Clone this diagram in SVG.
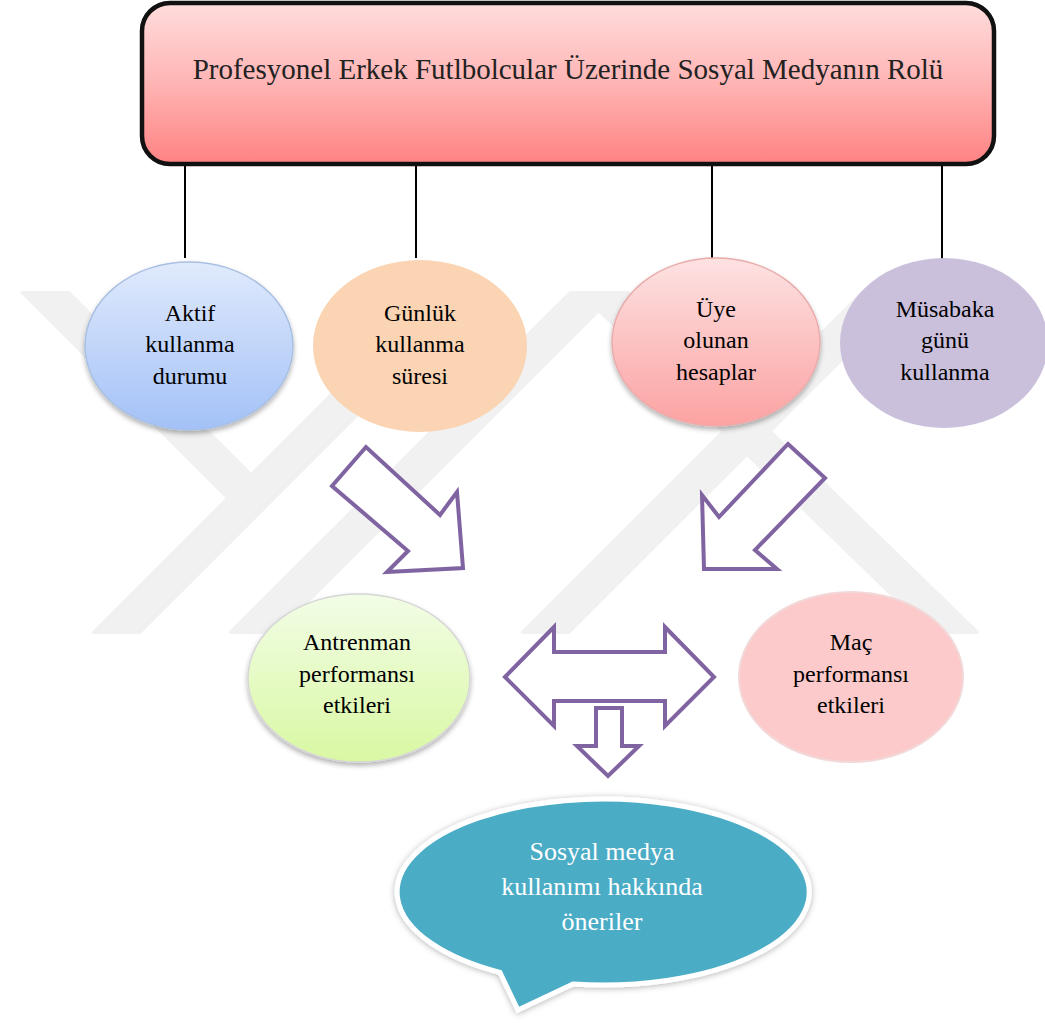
<svg xmlns="http://www.w3.org/2000/svg" width="1045" height="1023" viewBox="0 0 1045 1023">
  <defs>
    <linearGradient id="gTitle" x1="0" y1="0" x2="0" y2="1">
      <stop offset="0" stop-color="#ffdcdc"/>
      <stop offset="0.5" stop-color="#ffb4b4"/>
      <stop offset="1" stop-color="#ff8282"/>
    </linearGradient>
    <linearGradient id="gBlue" x1="0" y1="0" x2="0" y2="1">
      <stop offset="0" stop-color="#e0eafc"/>
      <stop offset="1" stop-color="#a3c1f7"/>
    </linearGradient>
    <linearGradient id="gPink" x1="0" y1="0" x2="0" y2="1">
      <stop offset="0" stop-color="#fde2e2"/>
      <stop offset="1" stop-color="#fca2a2"/>
    </linearGradient>
    <linearGradient id="gGreen" x1="0" y1="0" x2="0" y2="1">
      <stop offset="0" stop-color="#f2fde6"/>
      <stop offset="1" stop-color="#d9f8a3"/>
    </linearGradient>
    <filter id="shadow" x="-20%" y="-20%" width="140%" height="150%">
      <feDropShadow dx="0" dy="3" stdDeviation="2.5" flood-color="#000" flood-opacity="0.3"/>
    </filter>
    <filter id="bubbleShadow" x="-10%" y="-20%" width="120%" height="140%">
      <feDropShadow dx="0" dy="1" stdDeviation="3" flood-color="#000" flood-opacity="0.3"/>
    </filter>
    <clipPath id="wmClip">
      <rect x="0" y="291" width="1045" height="343"/>
    </clipPath>
  </defs>
  <style>
    .wm { fill: none; stroke: #f1f1f1; stroke-width: 36; stroke-linejoin: miter; }
    .tie { stroke: #000; stroke-width: 2; }
    .lbl { font-family: "Liberation Serif", "Times New Roman", serif; font-size: 24px; fill: #000; text-anchor: middle; }
    .title { font-family: "Liberation Serif", "Times New Roman", serif; font-size: 29px; fill: #222; text-anchor: middle; }
    .bub { font-family: "Liberation Serif", "Times New Roman", serif; font-size: 26px; fill: #fff; text-anchor: middle; }
    .hollow { fill: #fff; stroke: #8064a2; stroke-width: 4; stroke-linejoin: miter; }
  </style>

  <rect width="1045" height="1023" fill="#fff"/>

  <!-- faint background emblem -->
  <g id="emblem" clip-path="url(#wmClip)">
    <polyline class="wm" points="33,280 252,499"/>
    <line class="wm" x1="104" y1="645" x2="469" y2="280"/>
    <line class="wm" x1="241" y1="645" x2="606" y2="280"/>
    <polyline class="wm" points="591,280 967,645"/>
    <line class="wm" x1="533" y1="645" x2="898" y2="280"/>
  </g>

  <!-- connectors -->
  <g id="connectors">
    <line class="tie" x1="185" y1="164" x2="185" y2="258"/>
    <line class="tie" x1="416" y1="164" x2="416" y2="258"/>
    <line class="tie" x1="712" y1="164" x2="712" y2="259"/>
    <line class="tie" x1="942" y1="164" x2="942" y2="259"/>
    <polygon class="hollow" points="366,447 332,486 408,551 387,572 463,568 457,492 440,515"/>
    <polygon class="hollow" points="788,444 825,478 755,550 777,569 704,569 702,495 719,517"/>
    <polygon class="hollow" points="505,677 554,627 554,652 665,652 665,627 714,677 665,726 665,701 554,701 554,726"/>
    <polygon class="hollow" points="596,708 622,708 622,746 639,746 608,776 577,746 596,746"/>
  </g>

  <g id="title">
    <rect x="142" y="3" width="852" height="161" rx="28" ry="28" fill="url(#gTitle)" stroke="#111" stroke-width="4.5"/>
    <text class="title" x="568" y="79">Profesyonel Erkek Futlbolcular Üzerinde Sosyal Medyanın Rolü</text>
  </g>

  <g id="aktif">
    <ellipse cx="189" cy="346" rx="104" ry="84" fill="url(#gBlue)" stroke="#a9c0e2" stroke-width="1.5" filter="url(#shadow)"/>
    <text class="lbl" x="190" y="321">Aktif</text>
    <text class="lbl" x="190" y="352">kullanma</text>
    <text class="lbl" x="190" y="384">durumu</text>
  </g>

  <g id="gunluk">
    <ellipse cx="420" cy="346" rx="107" ry="86" fill="#fad4b3"/>
    <text class="lbl" x="420" y="321">Günlük</text>
    <text class="lbl" x="420" y="352">kullanma</text>
    <text class="lbl" x="420" y="384">süresi</text>
  </g>

  <g id="uye">
    <ellipse cx="716" cy="342" rx="104" ry="84" fill="url(#gPink)" stroke="#e9acac" stroke-width="1.5" filter="url(#shadow)"/>
    <text class="lbl" x="716" y="317">Üye</text>
    <text class="lbl" x="716" y="348">olunan</text>
    <text class="lbl" x="716" y="380">hesaplar</text>
  </g>

  <g id="musabaka">
    <ellipse cx="944" cy="343" rx="104" ry="85" fill="#cbc0dc"/>
    <text class="lbl" x="945" y="317">Müsabaka</text>
    <text class="lbl" x="945" y="348">günü</text>
    <text class="lbl" x="945" y="380">kullanma</text>
  </g>

  <g id="antrenman">
    <ellipse cx="359" cy="678" rx="111" ry="84" fill="url(#gGreen)" stroke="#d6d6d6" stroke-width="1.5" filter="url(#shadow)"/>
    <text class="lbl" x="357" y="650">Antrenman</text>
    <text class="lbl" x="357" y="682">performansı</text>
    <text class="lbl" x="357" y="713">etkileri</text>
  </g>

  <g id="mac">
    <ellipse cx="851" cy="677" rx="112" ry="85" fill="#fccaca" stroke="#f2d8d8" stroke-width="2"/>
    <text class="lbl" x="851" y="650">Maç</text>
    <text class="lbl" x="851" y="682">performansı</text>
    <text class="lbl" x="851" y="713">etkileri</text>
  </g>

  <g id="oneriler">
    <path d="M500,972.5 L518,1010 L573,984 A206,93 0 1 0 500,972.5 Z" fill="#4bacc6" stroke="#fff" stroke-width="5" stroke-linejoin="miter" filter="url(#bubbleShadow)"/>
    <text class="bub" x="602" y="860">Sosyal medya</text>
    <text class="bub" x="602" y="895">kullanımı hakkında</text>
    <text class="bub" x="602" y="930">öneriler</text>
  </g>
</svg>
